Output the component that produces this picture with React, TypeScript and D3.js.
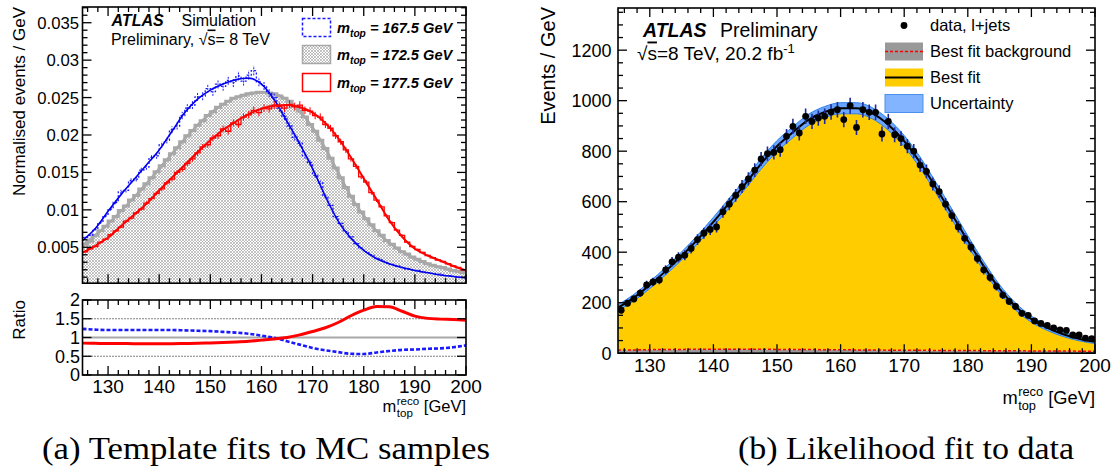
import React from 'react';
import * as d3 from 'd3';

// ---------------- DATA ----------------
const GRID = [125,127.5,130,132.5,135,137.5,140,142.5,145,147.5,150,152.5,155,157.5,160,162.5,165,167.5,170,172.5,175,177.5,180,182.5,185,187.5,190,192.5,195,197.5,200];
const BIN_LO = 125;
const BIN_W = 1;

// template fits (normalised events / GeV)
const FIT_1675 = [0.0059,0.0075,0.0098,0.0120,0.0140,0.0160,0.0180,0.0205,0.0230,0.0248,0.0260,0.0268,0.0274,0.0276,0.0268,0.0247,0.0218,0.0188,0.0155,0.0118,0.0085,0.0062,0.0046,0.0035,0.0028,0.0023,0.0019,0.0016,0.0013,0.0011,0.0009];
const FIT_1725 = [0.0053,0.0066,0.0081,0.0098,0.0116,0.0135,0.0155,0.0175,0.0195,0.0213,0.0229,0.0241,0.0250,0.0255,0.0257,0.0255,0.0247,0.0232,0.0210,0.0182,0.0150,0.0118,0.0092,0.0072,0.0056,0.0044,0.0035,0.0028,0.0023,0.0019,0.0016];
const FIT_1775 = [0.0043,0.0052,0.0063,0.0078,0.0093,0.0108,0.0126,0.0143,0.0160,0.0177,0.0193,0.0207,0.0218,0.0228,0.0235,0.0239,0.0240,0.0237,0.0230,0.0216,0.0196,0.0170,0.0142,0.0114,0.0086,0.0064,0.0048,0.0039,0.0032,0.0025,0.0019];

// template histograms, 1 GeV bins 125-200
const HIST_1675 = [0.0063,0.0066,0.0074,0.0083,0.0092,0.0101,0.0110,0.0124,0.0126,0.0139,0.0141,0.0153,0.0157,0.0170,0.0172,0.0187,0.0193,0.0207,0.0212,0.0226,0.0236,0.0240,0.0251,0.0252,0.0262,0.0258,0.0268,0.0265,0.0273,0.0270,0.0279,0.0272,0.0280,0.0286,0.0271,0.0266,0.0256,0.0250,0.0236,0.0225,0.0212,0.0197,0.0189,0.0172,0.0163,0.0146,0.0136,0.0118,0.0106,0.0091,0.0082,0.0071,0.0064,0.0055,0.0049,0.0044,0.0040,0.0035,0.0033,0.0029,0.0027,0.0025,0.0023,0.0021,0.0020,0.0019,0.0017,0.0016,0.0015,0.0014,0.0013,0.0012,0.0011,0.0010,0.0010];
const HIST_1725 = [0.0054,0.0058,0.0066,0.0072,0.0078,0.0085,0.0091,0.0099,0.0105,0.0113,0.0119,0.0128,0.0135,0.0143,0.0151,0.0159,0.0167,0.0175,0.0183,0.0191,0.0199,0.0206,0.0213,0.0219,0.0226,0.0231,0.0237,0.0241,0.0245,0.0249,0.0251,0.0253,0.0255,0.0256,0.0257,0.0257,0.0256,0.0255,0.0252,0.0249,0.0245,0.0238,0.0232,0.0224,0.0214,0.0205,0.0193,0.0182,0.0169,0.0156,0.0143,0.0130,0.0118,0.0107,0.0097,0.0088,0.0080,0.0072,0.0066,0.0059,0.0054,0.0049,0.0044,0.0041,0.0037,0.0034,0.0031,0.0028,0.0026,0.0024,0.0023,0.0021,0.0019,0.0018,0.0016];
const HIST_1775 = [0.0044,0.0048,0.0051,0.0057,0.0061,0.0067,0.0072,0.0077,0.0085,0.0089,0.0096,0.0101,0.0109,0.0115,0.0122,0.0128,0.0136,0.0141,0.0150,0.0154,0.0162,0.0168,0.0176,0.0184,0.0187,0.0196,0.0199,0.0208,0.0205,0.0216,0.0214,0.0224,0.0227,0.0233,0.0230,0.0236,0.0235,0.0240,0.0238,0.0236,0.0241,0.0238,0.0240,0.0233,0.0232,0.0226,0.0224,0.0214,0.0209,0.0199,0.0191,0.0180,0.0168,0.0158,0.0144,0.0137,0.0123,0.0113,0.0104,0.0092,0.0083,0.0073,0.0066,0.0057,0.0051,0.0047,0.0043,0.0039,0.0036,0.0033,0.0031,0.0028,0.0025,0.0023,0.0020];
const TEMPLATE_REL_ERR = 0.022;

// ratio to the 172.5 GeV template
const RATIO_1675 = [1.23,1.21,1.2,1.2,1.2,1.2,1.2,1.2,1.19,1.18,1.17,1.15,1.13,1.1,1.05,0.99,0.9,0.81,0.72,0.66,0.61,0.565,0.56,0.6,0.64,0.67,0.68,0.7,0.71,0.74,0.79];
const RATIO_1775 = [0.85,0.845,0.84,0.84,0.835,0.835,0.835,0.835,0.84,0.845,0.855,0.865,0.88,0.9,0.93,0.96,1.0,1.07,1.16,1.26,1.4,1.58,1.73,1.83,1.82,1.7,1.57,1.51,1.49,1.48,1.46];

// likelihood fit to data (events / GeV)
const DATA = [170,198,215,238,270,282,290,330,362,380,388,415,450,475,490,500,560,590,625,660,690,725,769,790,795,806,859,898,872,938,918,931,938,955,964,925,980,894,964,954,954,868,918,865,850,820,800,745,720,670,640,590,545,500,455,420,375,330,300,265,230,205,185,158,150,128,118,110,100,92,90,72,72,60,58];
const FIT_TOTAL = [180,220,270,325,385,450,520,595,670,750,820,875,925,955,970,970,950,905,840,755,655,550,445,345,255,185,135,100,75,57,45];
const FIT_BKG = [12,13,14,15,15,16,16,16,16,16,15,15,15,14,14,13,13,12,12,12,11,11,11,10,10,10,9,9,9,8,8];
const FIT_UNC = [12,13,14,15,16,17,18,19,20,21,22,22,22,22,22,22,22,22,22,22,21,21,20,18,16,14,12,10,9,8,7];

const X_TICKS = [130,140,150,160,170,180,190,200];
const Y_TICKS_L = [0.005,0.01,0.015,0.02,0.025,0.03,0.035];
const Y_TICKS_R = [0,200,400,600,800,1000,1200];
const RATIO_TICKS = [0,0.5,1,1.5,2];
const MASSES = ['167.5', '172.5', '177.5'];
const LEGEND_R = ['data, l+jets', 'Best fit background', 'Best fit', 'Uncertainty'];

// ---------------- LAYOUT ----------------
const SANS = 'Liberation Sans, Arial, Helvetica, sans-serif';

const xL = d3.scaleLinear().domain([125, 200]).range([82.5, 466]);
const yL = d3.scaleLinear().domain([0.0002, 0.0371]).range([283.2, 7]);
const yRatio = d3.scaleLinear().domain([0, 2]).range([375, 300]);
const xR = d3.scaleLinear().domain([125, 200]).range([618, 1095]);
const yR = d3.scaleLinear().domain([0, 1367]).range([353.2, 8]);

const binCenters = HIST_1675.map((_, i) => BIN_LO + BIN_W * (i + 0.5));
const minorX = d3.range(126, 200, 2).filter(v => v % 10 !== 0);

function stepPath(xs: any, ys: any, vals: number[]) {
  const pts: [number, number][] = vals.map((v, i) => [BIN_LO + i * BIN_W, v]);
  pts.push([BIN_LO + vals.length * BIN_W, vals[vals.length - 1]]);
  return d3.line<[number, number]>().x(d => xs(d[0])).y(d => ys(d[1])).curve(d3.curveStepAfter)(pts) || '';
}
function stepArea(xs: any, ys: any, vals: number[], base: number) {
  const pts: [number, number][] = vals.map((v, i) => [BIN_LO + i * BIN_W, v]);
  pts.push([BIN_LO + vals.length * BIN_W, vals[vals.length - 1]]);
  return d3.area<[number, number]>().x(d => xs(d[0])).y0(ys(base)).y1(d => ys(d[1])).curve(d3.curveStepAfter)(pts) || '';
}
function smooth(xs: any, ys: any, vals: number[]) {
  return d3.line<number>().x((_, i) => xs(GRID[i])).y(d => ys(d)).curve(d3.curveMonotoneX)(vals) || '';
}

function FrameTicks({ xs, ys, xMaj, xMin, yMaj, yMin, majL = 9, minL = 5 }: any) {
  const [x0, x1] = xs.range();
  const [yb, yt] = ys.range();
  const L: number[][] = [];
  xMaj.forEach((v: number) => { const p = xs(v); L.push([p, yb, p, yb - majL], [p, yt, p, yt + majL]); });
  xMin.forEach((v: number) => { const p = xs(v); L.push([p, yb, p, yb - minL], [p, yt, p, yt + minL]); });
  yMaj.forEach((v: number) => { const p = ys(v); L.push([x0, p, x0 + majL, p], [x1, p, x1 - majL, p]); });
  yMin.forEach((v: number) => { const p = ys(v); L.push([x0, p, x0 + minL, p], [x1, p, x1 - minL, p]); });
  return (
    <g stroke="#000" strokeWidth={1.3}>
      {L.map((l, i) => <line key={i} x1={l[0]} y1={l[1]} x2={l[2]} y2={l[3]} />)}
      <rect x={x0} y={yt} width={x1 - x0} height={yb - yt} fill="none" strokeWidth={1.6} />
    </g>
  );
}

function MassTitle({ xRight, y, fs }: { xRight: number; y: number; fs: number }) {
  const total = 5.06 * fs;
  const x0 = xRight - total;
  const sfs = fs * 0.7;
  const mW = 0.833 * fs;
  return (
    <g fontFamily={SANS} fill="#000">
      <text x={x0} y={y} fontSize={fs}>m</text>
      <text x={x0 + mW + 0.5} y={y - 0.42 * fs} fontSize={sfs}>reco</text>
      <text x={x0 + mW + 0.5} y={y + 0.32 * fs} fontSize={sfs}>top</text>
      <text x={xRight} y={y} fontSize={fs} textAnchor="end">[GeV]</text>
    </g>
  );
}

function LeftPanel() {
  const yMinor = d3.range(0.001, 0.0371, 0.001).filter(v => Math.abs(v / 0.005 - Math.round(v / 0.005)) > 0.01);
  const baseV = yL.domain()[0];
  return (
    <g>
      <defs>
        <pattern id="hatch" width="3" height="3" patternUnits="userSpaceOnUse">
          <rect width="3" height="3" fill="#ffffff" />
          <path d="M0,0 L3,3 M3,0 L0,3" stroke="#9a9a9a" strokeWidth={0.6} />
        </pattern>
        <clipPath id="clipL"><rect x={82.5} y={7} width={383.5} height={276.2} /></clipPath>
        <clipPath id="clipRatio"><rect x={82.5} y={300} width={383.5} height={75} /></clipPath>
      </defs>

      <g clipPath="url(#clipL)">
        <path d={stepArea(xL, yL, HIST_1725, baseV)} fill="url(#hatch)" stroke="none" />
        <path d={stepPath(xL, yL, HIST_1725)} fill="none" stroke="#a8a8a8" strokeWidth={3} />
        <path d={smooth(xL, yL, FIT_1725)} fill="none" stroke="#a8a8a8" strokeWidth={2.5} />
        <path d={stepPath(xL, yL, HIST_1675)} fill="none" stroke="#1a1aff" strokeWidth={1.3} strokeDasharray="2,2" />
        {HIST_1675.map((v, i) => (
          <line key={'eb' + i} x1={xL(binCenters[i])} x2={xL(binCenters[i])} y1={yL(v * (1 - TEMPLATE_REL_ERR))} y2={yL(v * (1 + TEMPLATE_REL_ERR))} stroke="#1a1aff" strokeWidth={1} strokeDasharray="2,1" />
        ))}
        <path d={smooth(xL, yL, FIT_1675)} fill="none" stroke="#0000ee" strokeWidth={1.6} />
        <path d={stepPath(xL, yL, HIST_1775)} fill="none" stroke="#ff0000" strokeWidth={1.3} />
        {HIST_1775.map((v, i) => (
          <line key={'er' + i} x1={xL(binCenters[i])} x2={xL(binCenters[i])} y1={yL(v * (1 - TEMPLATE_REL_ERR))} y2={yL(v * (1 + TEMPLATE_REL_ERR))} stroke="#ff0000" strokeWidth={1} />
        ))}
        <path d={smooth(xL, yL, FIT_1775)} fill="none" stroke="#ff0000" strokeWidth={2} />
      </g>

      <FrameTicks xs={xL} ys={yL} xMaj={X_TICKS} xMin={minorX} yMaj={Y_TICKS_L} yMin={yMinor} />
      {Y_TICKS_L.map(v => (
        <text key={v} x={79} y={yL(v)} dy="0.36em" textAnchor="end" fontSize={16.7} fontFamily={SANS}>{String(v)}</text>
      ))}
      <text transform="translate(25,7) rotate(-90)" textAnchor="end" fontSize={17} fontFamily={SANS}>Normalised events / GeV</text>

      <text x={111.5} y={26} fontSize={16} fontFamily={SANS} fontWeight="bold" fontStyle="italic">ATLAS</text>
      <text x={181.5} y={26} fontSize={16} fontFamily={SANS}>Simulation</text>
      <text x={111} y={44.5} fontSize={16} fontFamily={SANS}>
        Preliminary, √<tspan textDecoration="overline">s</tspan>= 8 TeV
      </text>

      <rect x={302.5} y={18.5} width={28} height={18} fill="#fff" stroke="#1a1aff" strokeWidth={1.5} strokeDasharray="3,2" />
      <rect x={302.5} y={45.5} width={28} height={18} fill="url(#hatch)" stroke="#a8a8a8" strokeWidth={1.5} />
      <rect x={302.5} y={73.5} width={28} height={18} fill="#fff" stroke="#ff0000" strokeWidth={1.5} />
      {MASSES.map((m, i) => (
        <text key={m} x={337} y={32.5 + i * 27.5} fontSize={14.6} fontFamily={SANS} fontWeight="bold" fontStyle="italic">
          m<tspan fontSize={10.2} dy={4}>top</tspan><tspan dy={-4}>{` = ${m} GeV`}</tspan>
        </text>
      ))}

      <g clipPath="url(#clipRatio)">
        <line x1={82.5} x2={466} y1={yRatio(0.5)} y2={yRatio(0.5)} stroke="#000" strokeWidth={1} strokeDasharray="1,2" />
        <line x1={82.5} x2={466} y1={yRatio(1.5)} y2={yRatio(1.5)} stroke="#000" strokeWidth={1} strokeDasharray="1,2" />
        <line x1={82.5} x2={466} y1={yRatio(1)} y2={yRatio(1)} stroke="#a8a8a8" strokeWidth={2} />
        <path d={smooth(xL, yRatio, RATIO_1675)} fill="none" stroke="#1a1aff" strokeWidth={2.6} strokeDasharray="4,2" />
        <path d={smooth(xL, yRatio, RATIO_1775)} fill="none" stroke="#ff0000" strokeWidth={3} />
      </g>
      <FrameTicks xs={xL} ys={yRatio} xMaj={X_TICKS} xMin={minorX} yMaj={RATIO_TICKS} yMin={[]} majL={9} minL={5} />
      {RATIO_TICKS.map(v => (
        <text key={v} x={80} y={yRatio(v)} dy="0.36em" textAnchor="end" fontSize={18} fontFamily={SANS}>{String(v)}</text>
      ))}
      <text transform="translate(25,300) rotate(-90)" textAnchor="end" fontSize={17} fontFamily={SANS}>Ratio</text>
      {X_TICKS.map(v => (
        <text key={v} x={xL(v)} y={393} textAnchor="middle" fontSize={19} fontFamily={SANS}>{v}</text>
      ))}
      <MassTitle xRight={466} y={412} fs={16.5} />
    </g>
  );
}

function RightPanel() {
  const yMinor = d3.range(50, 1367, 50).filter(v => v % 200 !== 0);
  const bandArea = d3.area<number>().x((_, i) => xR(GRID[i])).y0((d, i) => yR(d - FIT_UNC[i])).y1((d, i) => yR(d + FIT_UNC[i])).curve(d3.curveMonotoneX)(FIT_TOTAL) || '';
  const sigArea = d3.area<number>().x((_, i) => xR(GRID[i])).y0((_, i) => yR(FIT_BKG[i])).y1(d => yR(d)).curve(d3.curveMonotoneX)(FIT_TOTAL) || '';
  const bkgArea = d3.area<number>().x((_, i) => xR(GRID[i])).y0(yR(0)).y1(d => yR(d)).curve(d3.curveMonotoneX)(FIT_BKG) || '';
  return (
    <g>
      <defs>
        <clipPath id="clipR"><rect x={618} y={8} width={477} height={345.2} /></clipPath>
      </defs>
      <g clipPath="url(#clipR)">
        <path d={bkgArea} fill="#999999" />
        <path d={sigArea} fill="#ffcc00" />
        <path d={bandArea} fill="#6aa5ff" stroke="#2f80e8" strokeWidth={1} />
        <path d={smooth(xR, yR, FIT_TOTAL)} fill="none" stroke="#000" strokeWidth={2} />
        <path d={smooth(xR, yR, FIT_BKG)} fill="none" stroke="#ff0000" strokeWidth={1.5} strokeDasharray="3,2" />
        {DATA.map((v, i) => {
          const cx = xR(binCenters[i]);
          const e = Math.sqrt(v);
          return (
            <g key={i}>
              <line x1={cx} x2={cx} y1={yR(v - e)} y2={yR(v + e)} stroke="#1d2a9c" strokeWidth={1.6} />
              <circle cx={cx} cy={yR(v)} r={3.4} fill="#000" />
            </g>
          );
        })}
      </g>
      <FrameTicks xs={xR} ys={yR} xMaj={X_TICKS} xMin={minorX} yMaj={Y_TICKS_R} yMin={yMinor} />
      {Y_TICKS_R.map(v => (
        <text key={v} x={611.5} y={yR(v)} dy="0.36em" textAnchor="end" fontSize={18} fontFamily={SANS}>{v}</text>
      ))}
      {X_TICKS.map(v => (
        <text key={v} x={xR(v)} y={371.5} textAnchor="middle" fontSize={19} fontFamily={SANS}>{v}</text>
      ))}
      <text transform="translate(555,7) rotate(-90)" textAnchor="end" fontSize={20} fontFamily={SANS}>Events / GeV</text>
      <MassTitle xRight={1095} y={404} fs={18.3} />

      <text x={643} y={36.5} fontSize={19.5} fontFamily={SANS} fontWeight="bold" fontStyle="italic">ATLAS</text>
      <text x={720} y={36.5} fontSize={19.5} fontFamily={SANS}>Preliminary</text>
      <text x={637} y={59.5} fontSize={19} fontFamily={SANS}>
        √<tspan textDecoration="overline">s</tspan>=8 TeV, 20.2 fb<tspan fontSize={13} dy={-7}>-1</tspan>
      </text>

      <circle cx={904} cy={25.5} r={3.4} fill="#000" />
      <rect x={885} y={42.5} width={38} height={18} fill="#999999" />
      <line x1={885} x2={923} y1={51.5} y2={51.5} stroke="#ff0000" strokeWidth={1.5} strokeDasharray="3,2" />
      <rect x={885} y={68.5} width={38} height={18} fill="#ffcc00" />
      <line x1={885} x2={923} y1={77.5} y2={77.5} stroke="#000" strokeWidth={2} />
      <rect x={885} y={94.5} width={38} height={18} fill="#82b4ff" stroke="#4a90ee" strokeWidth={1} />
      {LEGEND_R.map((t, i) => (
        <text key={t} x={930} y={25.5 + i * 26} dy="0.36em" fontSize={16.5} fontFamily={SANS}>{t}</text>
      ))}
    </g>
  );
}

export default function App() {
  return (
    <svg width={1119} height={472} style={{ position: 'absolute', left: 0, top: 0, background: '#fff' }}>
      <rect width={1119} height={472} fill="#fff" />
      <LeftPanel />
      <RightPanel />
      <text x={42} y={459} fontSize={31} fontFamily="Liberation Serif, serif" textLength={448} lengthAdjust="spacingAndGlyphs">(a) Template fits to MC samples</text>
      <text x={738} y={459} fontSize={31} fontFamily="Liberation Serif, serif" textLength={336} lengthAdjust="spacingAndGlyphs">(b) Likelihood fit to data</text>
    </svg>
  );
}
